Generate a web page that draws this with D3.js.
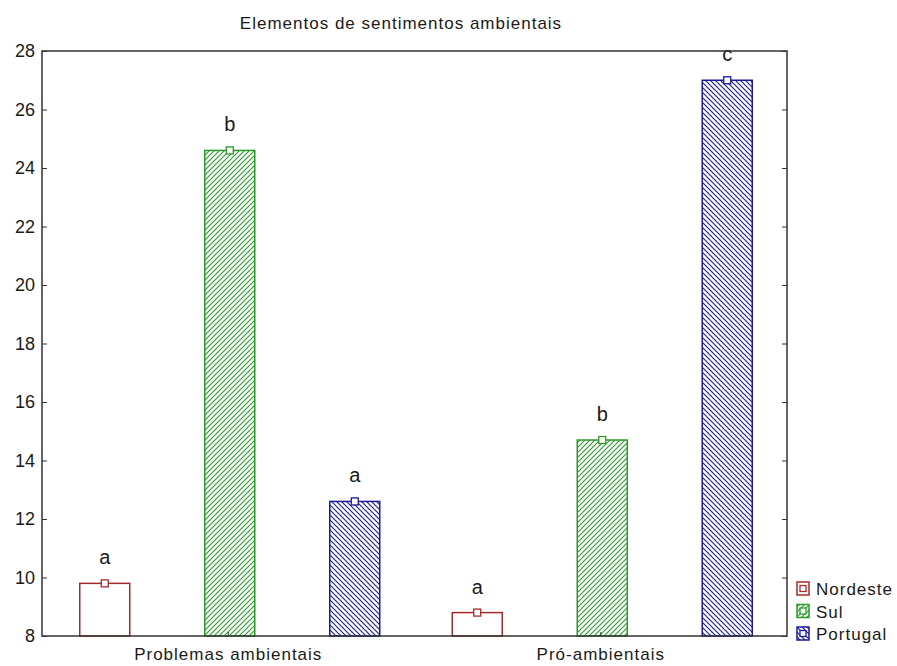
<!DOCTYPE html>
<html>
<head>
<meta charset="utf-8">
<script src="https://cdn.jsdelivr.net/npm/d3@7/dist/d3.min.js"></script>
<style>
  body { margin: 0; background: #fff; }
  text { font-family: "Liberation Sans", Arial, sans-serif; fill: #1a1a1a; }
</style>
</head>
<body>
<svg id="chart" width="897" height="666"></svg>
<script>
// Category groups, series names, mean values and significance letters
const categories = ["Problemas ambientais", "Pró-ambientais"];
const seriesNames = ["Nordeste", "Sul", "Portugal"];
const nordeste = [9.8, 8.8];
const sul = [24.6, 14.7];
const portugal = [12.6, 27.0];
const letters = [["a", "a"], ["b", "b"], ["a", "c"]];
const yTicks = [8, 10, 12, 14, 16, 18, 20, 22, 24, 26, 28];
const title = "Elementos de sentimentos ambientais";

const seriesValues = [nordeste, sul, portugal];
const colors = ["#a52a2a", "#2a9a2a", "#1a1a9a"];
const fills = ["#fff", "url(#hatch-sul)", "url(#hatch-pt)"];
const fontFam = "Liberation Sans, Arial, sans-serif";

const svg = d3.select("#chart");
const x0 = 42, x1 = 787, y0 = 636, y1 = 51;

const defs = svg.append("defs");
function hatch(id, color, dir) {
  const p = defs.append("pattern").attr("id", id)
    .attr("patternUnits", "userSpaceOnUse").attr("width", 5).attr("height", 5);
  p.append("rect").attr("width", 5).attr("height", 5).attr("fill", "#fff");
  const d = dir > 0 ? "M-1,6 L6,-1 M-1,1 L1,-1 M4,6 L6,4" : "M-1,-1 L6,6 M-1,4 L1,6 M4,-1 L6,1";
  p.append("path").attr("d", d).attr("stroke", color).attr("stroke-width", 1.1);
}
hatch("hatch-sul", colors[1], 1);
hatch("hatch-pt", colors[2], -1);

const xCat = d3.scaleBand().domain(categories).range([x0, x1]).padding(0);
const xSub = d3.scaleBand().domain(seriesNames).range([-186, 189]).padding(0);
const y = d3.scaleLinear().domain([8, 28]).range([y0, y1]);
const barW = 50;

// Title
svg.append("text").attr("x", 401).attr("y", 29).attr("text-anchor", "middle")
  .style("font-size", "17px").style("letter-spacing", "1px").text(title);

// Bars with a small marker at each mean and its letter above
seriesNames.forEach((s, si) => {
  const g = svg.append("g");
  categories.forEach((c, ci) => {
    const v = seriesValues[si][ci];
    const cx = xCat(c) + xCat.bandwidth() / 2 + xSub(s) + xSub.bandwidth() / 2;
    g.append("rect").attr("x", cx - barW / 2).attr("y", y(v)).attr("width", barW)
      .attr("height", y0 - y(v)).attr("fill", fills[si])
      .attr("stroke", colors[si]).attr("stroke-width", 1.5);
    g.append("rect").attr("x", cx - 3.5).attr("y", y(v) - 3.5).attr("width", 7).attr("height", 7)
      .attr("fill", "#fff").attr("stroke", colors[si]).attr("stroke-width", 1.3);
    g.append("text").attr("x", cx).attr("y", y(v) - 19).attr("text-anchor", "middle")
      .style("font-size", "20px").text(letters[si][ci]);
  });
});

// Frame
svg.append("rect").attr("x", x0).attr("y", y1).attr("width", x1 - x0).attr("height", y0 - y1)
  .attr("fill", "none").attr("stroke", "#333").attr("stroke-width", 1.5);

// Left axis with inward ticks
const yl = svg.append("g").attr("transform", `translate(${x0},0)`)
  .call(d3.axisLeft(y).tickValues(yTicks).tickSize(-5).tickPadding(7).tickFormat(d3.format("d")));
yl.select(".domain").remove();
yl.selectAll("line").attr("stroke", "#333");
yl.selectAll("text").style("font-size", "18px").attr("fill", "#1a1a1a").attr("font-family", fontFam);

// Right axis ticks
const yr = svg.append("g").attr("transform", `translate(${x1},0)`)
  .call(d3.axisRight(y).tickValues(yTicks).tickSize(-5).tickFormat(""));
yr.select(".domain").remove();
yr.selectAll("line").attr("stroke", "#333");

// Bottom axis
const xb = svg.append("g").attr("transform", `translate(0,${y0})`)
  .call(d3.axisBottom(xCat).tickSize(-4).tickPadding(12));
xb.select(".domain").remove();
xb.selectAll("line").attr("stroke", "#333");
xb.selectAll("text").style("font-size", "17px").style("letter-spacing", "1px")
  .attr("fill", "#1a1a1a").attr("font-family", fontFam);

// Legend
const lg = svg.append("g").attr("transform", "translate(797,582)");
seriesNames.forEach((s, si) => {
  const gy = si * 22.5;
  lg.append("rect").attr("x", 0).attr("y", gy).attr("width", 12).attr("height", 13)
    .attr("fill", fills[si]).attr("stroke", colors[si]).attr("stroke-width", 1.5);
  lg.append("rect").attr("x", 3).attr("y", gy + 3.5).attr("width", 6).attr("height", 6)
    .attr("fill", "#fff").attr("stroke", colors[si]).attr("stroke-width", 1.3);
  lg.append("text").attr("x", 19).attr("y", gy + 13).style("font-size", "17px")
    .style("letter-spacing", "1px").text(s);
});
</script>
</body>
</html>
